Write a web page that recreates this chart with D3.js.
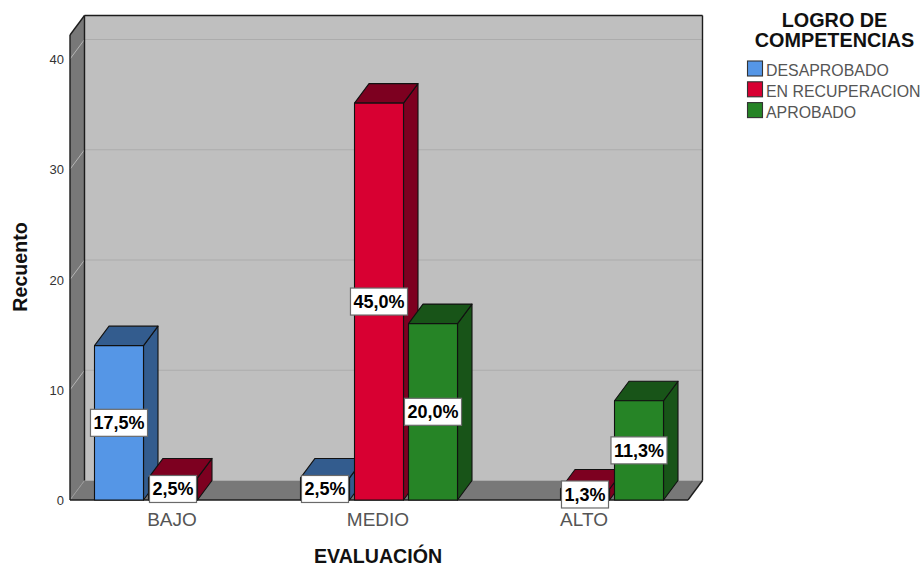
<!DOCTYPE html>
<html><head><meta charset="utf-8">
<script src="https://cdn.jsdelivr.net/npm/d3@7/dist/d3.min.js"></script>
<style>html,body{margin:0;padding:0;background:#fff}svg{display:block}text{font-family:"Liberation Sans",Arial,sans-serif}</style>
</head><body><svg id="c" width="921" height="567"></svg>
<script>
const categories = ["BAJO","MEDIO","ALTO"];
const seriesNames = ["DESAPROBADO","EN RECUPERACION","APROBADO"];
const desaprobado = [14,2,0];
const enRecuperacion = [2,36,1];
const aprobado = [0,16,9];
const pctDesaprobado = ["17,5%","2,5%",""];
const pctEnRecuperacion = ["2,5%","45,0%","1,3%"];
const pctAprobado = ["","20,0%","11,3%"];
const yTicks = [0,10,20,30,40];
const frontColors = ["#5596e6","#d80032","#268426"];
const sideColors = ["#335c8e","#7d0020","#185418"];
const topColors = ["#335c8e","#7d0020","#185418"];
const seriesValues = [desaprobado,enRecuperacion,aprobado];
const seriesPct = [pctDesaprobado,pctEnRecuperacion,pctAprobado];

const svg = d3.select("#c");
const dx = 14.5, dy = 19.5;
const y = d3.scaleLinear().domain([0,40]).range([500,59]);
const x0 = d3.scaleBand().domain(categories).range([70,688]);
const x1 = d3.scaleBand().domain(d3.range(3)).range([x0.bandwidth()/2-78.5,x0.bandwidth()/2+78.5]).paddingInner(0.0926);
const L=x0.range()[0],R=x0.range()[1],B=y(0),T=35;
const poly=(pts,fill,stroke,w)=>svg.append("polygon").attr("points",pts.map(p=>p.join(",")).join(" ")).attr("fill",fill).attr("stroke",stroke||"none").attr("stroke-width",w||1).attr("stroke-linejoin","round");

// walls
poly([[L+dx,T-dy],[R+dx,T-dy],[R+dx,B-dy],[L+dx,B-dy]],"#bfbfbf");
poly([[L,T],[L+dx,T-dy],[L+dx,B-dy],[L,B]],"#787878");
poly([[L,B],[L+dx,B-dy],[R+dx,B-dy],[R,B]],"#787878");
// gridlines
yTicks.forEach(t=>{
  if(t>0) svg.append("line").attr("x1",L+dx).attr("x2",R+dx).attr("y1",y(t)-dy).attr("y2",y(t)-dy).attr("stroke","#acacac").attr("stroke-width",1.2);
  svg.append("line").attr("x1",L).attr("x2",L+dx).attr("y1",y(t)).attr("y2",y(t)-dy).attr("stroke",t>0?"#b4b4b4":"#9a9a9a").attr("stroke-width",1);
});
// frame lines
const frame=(a,b,c,d,w)=>svg.append("line").attr("x1",a).attr("y1",b).attr("x2",c).attr("y2",d).attr("stroke","#1c1c1c").attr("stroke-width",w||1.4);
frame(L+dx,T-dy,R+dx,T-dy);
frame(R+dx,T-dy,R+dx,B-dy);
frame(L+dx,T-dy,L+dx,B-dy);
frame(L,T,L+dx,T-dy);
frame(L,T,L,B);
frame(L,B,R,B);
frame(R,B,R+dx,B-dy);

// bars
const labels=[];
categories.forEach((c,ci)=>{
  seriesValues.forEach((vals,si)=>{
    const v=vals[ci]; if(!v) return;
    const xa=x0(c)+x1(si), w=x1.bandwidth(), yt=y(v);
    poly([[xa+w,yt],[xa+w+dx,yt-dy],[xa+w+dx,B-dy],[xa+w,B]],sideColors[si],"#111",1.1);
    poly([[xa,yt],[xa+dx,yt-dy],[xa+w+dx,yt-dy],[xa+w,yt]],topColors[si],"#111",1.1);
    poly([[xa,yt],[xa+w,yt],[xa+w,B],[xa,B]],frontColors[si],"#111",1.1);
    labels.push({t:seriesPct[si][ci],cx:xa+w/2,cy:(yt+B)/2});
  });
});
// value labels
labels.forEach(l=>{
  const g=svg.append("g");
  const txt=g.append("text").attr("x",l.cx).attr("y",l.cy+6.5).attr("text-anchor","middle").attr("font-size",18).attr("font-weight","bold").attr("fill","#000").text(l.t);
  const tw=txt.node().getComputedTextLength();
  g.insert("rect","text").attr("x",l.cx-tw/2-3).attr("y",l.cy-13.5).attr("width",tw+6).attr("height",27).attr("fill","#fff").attr("stroke","#6a6a6a").attr("stroke-width",1.2);
});
// y axis labels
yTicks.forEach(t=>svg.append("text").attr("x",64).attr("y",y(t)+5).attr("text-anchor","end").attr("font-size",13).attr("fill","#333").text(t));
// x axis labels
categories.forEach(c=>svg.append("text").attr("x",x0(c)+x0.bandwidth()/2-1).attr("y",526).attr("text-anchor","middle").attr("font-size",19).attr("fill","#555").text(c));
svg.append("text").attr("x",378).attr("y",563).attr("text-anchor","middle").attr("font-size",19.6).attr("font-weight","bold").attr("fill","#111").text("EVALUACIÓN");
svg.append("text").attr("transform","translate(27,267) rotate(-90)").attr("text-anchor","middle").attr("font-size",19.6).attr("font-weight","bold").attr("fill","#111").text("Recuento");
// legend
["LOGRO DE","COMPETENCIAS"].forEach((t,i)=>svg.append("text").attr("x",834.5).attr("y",26.5+i*20).attr("text-anchor","middle").attr("font-size",19.8).attr("font-weight","bold").attr("fill","#111").text(t));
seriesNames.forEach((n,i)=>{
  const yy=61+i*20.8;
  svg.append("rect").attr("x",747.5).attr("y",yy).attr("width",15).attr("height",15).attr("fill",frontColors[i]).attr("stroke","#333").attr("stroke-width",1.1);
  svg.append("text").attr("x",766).attr("y",yy+15).attr("font-size",15.9).attr("fill","#555").text(n);
});
</script></body></html>
